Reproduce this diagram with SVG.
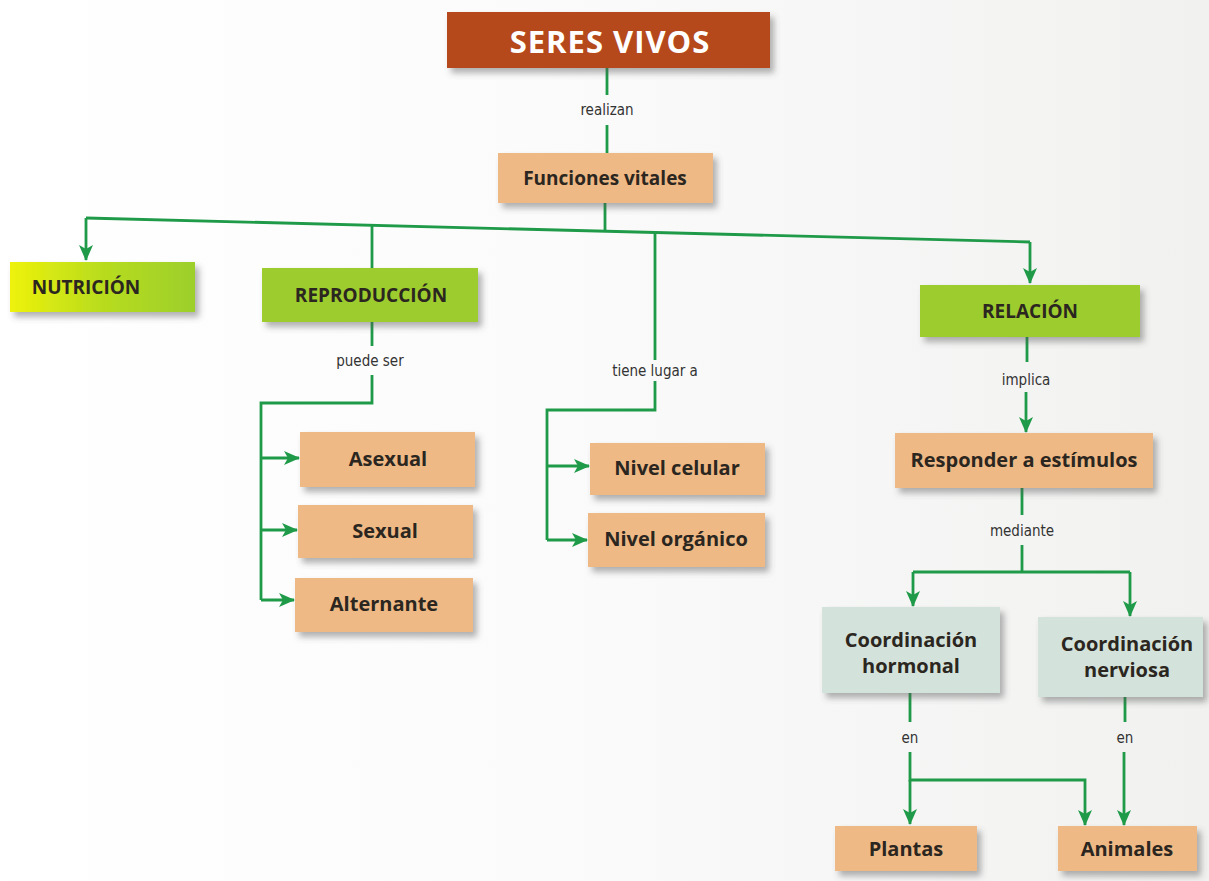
<svg xmlns="http://www.w3.org/2000/svg" width="1209" height="881" viewBox="0 0 1209 881">
<defs>
<filter id="sh" x="-10%" y="-20%" width="130%" height="160%">
<feDropShadow dx="4" dy="5" stdDeviation="3" flood-color="#555" flood-opacity="0.45"/>
</filter>
<linearGradient id="nut" x1="0" y1="0" x2="1" y2="0">
<stop offset="0" stop-color="#eef20a"/>
<stop offset="0.5" stop-color="#b8dc1e"/>
<stop offset="1" stop-color="#9ccf2c"/>
</linearGradient>
<linearGradient id="bg" x1="0" y1="0" x2="1" y2="0">
<stop offset="0" stop-color="#ffffff"/>
<stop offset="0.45" stop-color="#fbfbfb"/>
<stop offset="1" stop-color="#f1f1f0"/>
</linearGradient>
<marker id="ar" viewBox="0 0 16 16" refX="15" refY="8" markerWidth="16" markerHeight="16" markerUnits="userSpaceOnUse" orient="auto">
<path d="M0,1 L16,8 L0,15 L4,8 Z" fill="#1f9a48"/>
</marker>
<style>
.c{fill:none;stroke:#1f9a48;stroke-width:2.8}
.peach{fill:#efb985;filter:url(#sh)}
.green{fill:#9dcc2e;filter:url(#sh)}
.grey{fill:#d3e2da;filter:url(#sh)}
.t{font-family:"Open Sans","Liberation Sans",sans-serif;font-weight:bold;font-size:19px;fill:#2b2620;text-anchor:middle}
.tc{font-family:"Open Sans","Liberation Sans",sans-serif;font-weight:bold;font-size:20px;fill:#2b2620;text-anchor:middle}
.lb{font-family:"DejaVu Sans Condensed","Liberation Sans",sans-serif;font-size:15px;fill:#333;text-anchor:middle}
</style>
</defs>
<rect width="1209" height="881" fill="url(#bg)"/>

<g id="connectors">
<path class="c" d="M607,68 V95"/>
<path class="c" d="M607,125 V153"/>
<path class="c" d="M605,203 V230"/>
<path class="c" d="M86,218 L1030,242"/>
<path class="c" d="M86,218 V260" marker-end="url(#ar)"/>
<path class="c" d="M372,225 V268"/>
<path class="c" d="M655,233 V360"/>
<path class="c" d="M1030,242 V283" marker-end="url(#ar)"/>
<path class="c" d="M372,322 V346"/>
<path class="c" d="M372,375 V403 H261 V600"/>
<path class="c" d="M261,458 H299" marker-end="url(#ar)"/>
<path class="c" d="M261,530 H297" marker-end="url(#ar)"/>
<path class="c" d="M261,600 H294" marker-end="url(#ar)"/>
<path class="c" d="M655,381 V410 H547 V540"/>
<path class="c" d="M547,466 H589" marker-end="url(#ar)"/>
<path class="c" d="M547,540 H587" marker-end="url(#ar)"/>
<path class="c" d="M1027,337 V362"/>
<path class="c" d="M1026,392 V432" marker-end="url(#ar)"/>
<path class="c" d="M1022,488 V515"/>
<path class="c" d="M1022,545 V572"/>
<path class="c" d="M913,572 H1130"/>
<path class="c" d="M913,572 V606" marker-end="url(#ar)"/>
<path class="c" d="M1130,572 V616" marker-end="url(#ar)"/>
<path class="c" d="M910,693 V722"/>
<path class="c" d="M910,752 V780 H1085 V825" marker-end="url(#ar)"/>
<path class="c" d="M910,780 V824" marker-end="url(#ar)"/>
<path class="c" d="M1125,697 V722"/>
<path class="c" d="M1124,752 V825" marker-end="url(#ar)"/>
</g>

<g id="labels">
<text class="lb" x="607" y="115">realizan</text>
<text class="lb" x="370" y="366">puede ser</text>
<text class="lb" x="655" y="376">tiene lugar a</text>
<text class="lb" x="1026" y="385">implica</text>
<text class="lb" x="1022" y="536">mediante</text>
<text class="lb" x="910" y="743">en</text>
<text class="lb" x="1125" y="743">en</text>
</g>

<g id="seres-vivos">
<rect x="447" y="12" width="323" height="56" fill="#b6491f" filter="url(#sh)"/>
<text x="610" y="53" font-family="'Open Sans','Liberation Sans',sans-serif" font-weight="bold" font-size="31" letter-spacing="1" fill="#ffffff" text-anchor="middle">SERES VIVOS</text>
</g>
<g id="funciones-vitales">
<rect class="peach" x="498" y="153" width="215" height="50"/>
<text class="t" x="605" y="185">Funciones vitales</text>
</g>
<g id="nutricion">
<rect x="10" y="262" width="185" height="50" fill="url(#nut)" filter="url(#sh)"/>
<text class="t" x="86" y="294">NUTRICIÓN</text>
</g>
<g id="reproduccion">
<rect class="green" x="262" y="268" width="216" height="54"/>
<text class="t" x="371" y="302">REPRODUCCIÓN</text>
</g>
<g id="relacion">
<rect class="green" x="920" y="285" width="220" height="52"/>
<text class="t" x="1030" y="318">RELACIÓN</text>
</g>
<g id="asexual">
<rect class="peach" x="300" y="432" width="175" height="55"/>
<text class="tc" x="388" y="466">Asexual</text>
</g>
<g id="sexual">
<rect class="peach" x="298" y="505" width="175" height="53"/>
<text class="tc" x="385" y="538">Sexual</text>
</g>
<g id="alternante">
<rect class="peach" x="295" y="578" width="178" height="54"/>
<text class="tc" x="384" y="611">Alternante</text>
</g>
<g id="nivel-celular">
<rect class="peach" x="590" y="443" width="175" height="52"/>
<text class="tc" x="677" y="475">Nivel celular</text>
</g>
<g id="nivel-organico">
<rect class="peach" x="588" y="513" width="177" height="54"/>
<text class="tc" x="676" y="546">Nivel orgánico</text>
</g>
<g id="responder">
<rect class="peach" x="895" y="433" width="258" height="55"/>
<text class="tc" x="1024" y="467">Responder a estímulos</text>
</g>
<g id="coord-hormonal">
<rect class="grey" x="822" y="607" width="178" height="86"/>
<text class="tc" x="911" y="647">Coordinación</text>
<text class="tc" x="911" y="673">hormonal</text>
</g>
<g id="coord-nerviosa">
<rect class="grey" x="1038" y="617" width="165" height="80"/>
<text class="tc" x="1127" y="651">Coordinación</text>
<text class="tc" x="1127" y="677">nerviosa</text>
</g>
<g id="plantas">
<rect class="peach" x="835" y="826" width="142" height="45"/>
<text class="tc" x="906" y="856">Plantas</text>
</g>
<g id="animales">
<rect class="peach" x="1058" y="826" width="139" height="45"/>
<text class="tc" x="1127" y="856">Animales</text>
</g>
</svg>
